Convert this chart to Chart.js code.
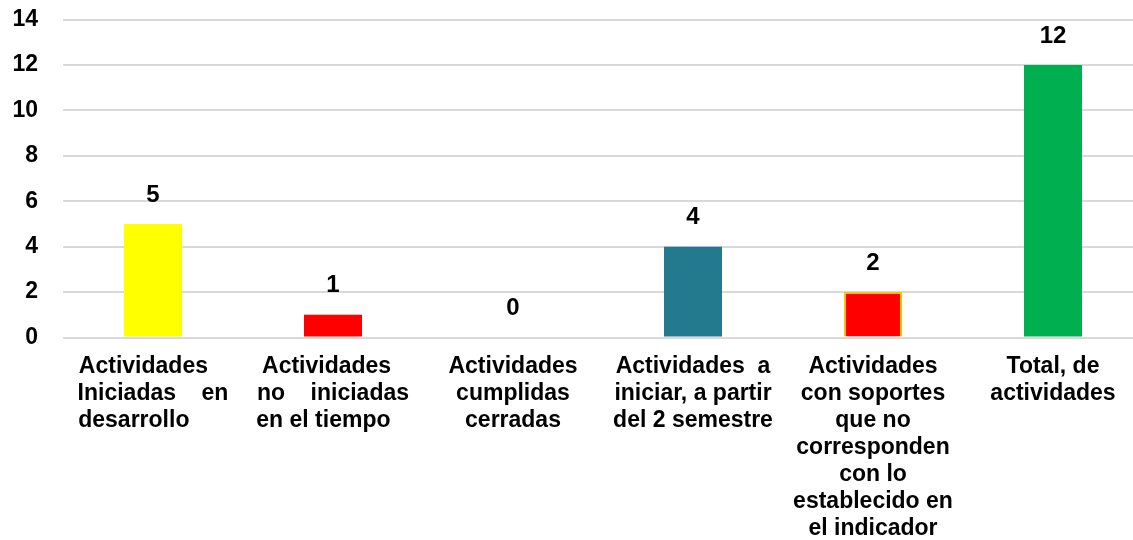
<!DOCTYPE html>
<html>
<head>
<meta charset="utf-8">
<script src="https://cdn.jsdelivr.net/npm/chart.js@4/dist/chart.umd.min.js"></script>
<style>
  html, body { margin: 0; padding: 0; background: #ffffff; overflow: hidden; }
  #wrap { position: relative; width: 1143px; height: 540px; }
</style>
</head>
<body>
<div id="wrap"><canvas id="c"></canvas></div>
<script>
// Category labels (line breaks / spacing imitate the justified text of the original)
const categories = [
  ["Actividades   ", "Iniciadas    en", "desarrollo      "],
  ["Actividades  ", "no    iniciadas", "en el tiempo   "],
  ["Actividades", "cumplidas", "cerradas"],
  ["Actividades  a", "iniciar, a partir", "del 2 semestre"],
  ["Actividades", "con soportes", "que no", "corresponden", "con lo", "establecido en", "el indicador"],
  ["Total, de", "actividades"]
];
const values = [5, 1, 0, 4, 2, 12];
const barColors = ["#FFFF00", "#FF0000", "#FF0000", "#23798E", "#FF0000", "#00B050"];
const barBorderColors = ["#FFFF00", "#FF0000", "#FF0000", "#23798E", "#FFC000", "#00B050"];
const barBorderWidths = [0, 0, 0, 0, 2, 0];
const yTicks = { min: 0, max: 14, step: 2 };

const FONT = '"Liberation Sans", Arial, sans-serif';

const valueLabels = {
  id: 'valueLabels',
  afterDatasetsDraw(chart) {
    const ctx = chart.ctx;
    const meta = chart.getDatasetMeta(0);
    ctx.save();
    ctx.font = 'bold 24px ' + FONT;
    ctx.fillStyle = '#000000';
    ctx.textAlign = 'center';
    ctx.textBaseline = 'middle';
    meta.data.forEach((el, i) => {
      ctx.fillText(String(values[i]), el.x, el.y - 29);
    });
    ctx.restore();
  }
};

new Chart(document.getElementById('c'), {
  type: 'bar',
  data: {
    labels: categories,
    datasets: [{
      data: values,
      backgroundColor: barColors,
      borderColor: barBorderColors,
      borderWidth: barBorderWidths,
      barPercentage: 1,
      categoryPercentage: 58 / 180
    }]
  },
  options: {
    responsive: true,
    maintainAspectRatio: false,
    animation: false,
    layout: { padding: { top: 19.5, right: 0, bottom: 0, left: 0 } },
    plugins: {
      legend: { display: false },
      tooltip: { enabled: false }
    },
    scales: {
      x: {
        grid: { display: false },
        border: { display: false },
        ticks: {
          autoSkip: false,
          maxRotation: 0,
          minRotation: 0,
          padding: 8,
          color: '#000000',
          font: { family: FONT, size: 23, weight: 'bold', lineHeight: 1.17 }
        },
        afterFit(scale) {
          scale.height = 202.5;
          scale.paddingLeft = 0; scale.paddingRight = 0;
          scale.paddingTop = 0; scale.paddingBottom = 0;
        }
      },
      y: {
        min: yTicks.min,
        max: yTicks.max,
        grid: { color: '#D9D9D9', lineWidth: 2, drawTicks: false },
        border: { display: false },
        ticks: {
          stepSize: yTicks.step,
          padding: 25,
          color: '#000000',
          font: { family: FONT, size: 23, weight: 'bold' }
        },
        afterFit(scale) {
          scale.width = 63;
          scale.paddingTop = 0; scale.paddingBottom = 0;
        }
      }
    }
  },
  plugins: [valueLabels]
});
</script>
</body>
</html>
